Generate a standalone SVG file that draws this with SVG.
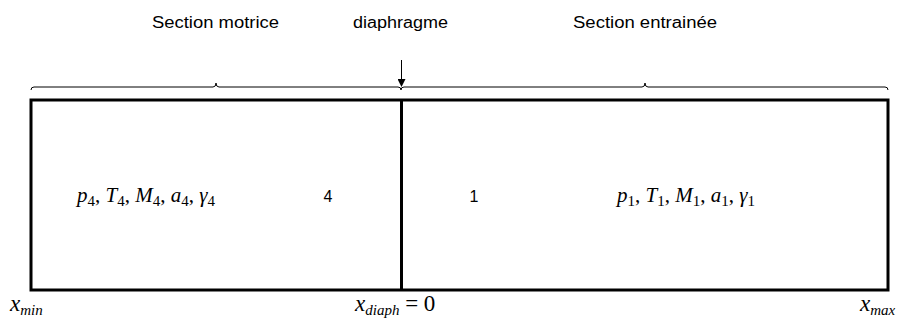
<svg xmlns="http://www.w3.org/2000/svg" width="902" height="320" viewBox="0 0 902 320">
<style>
.lbl{font-family:"Liberation Sans","Open Sans",sans-serif;font-size:16px;fill:#000}
.m{font-family:"Liberation Serif","DejaVu Serif",serif;font-style:italic;font-size:21px;fill:#000}
.ax{font-size:23px}
.s{font-size:15px}
.n{font-size:15px;font-style:normal}
.up{font-style:normal}
.brace{fill:none;stroke:#000;stroke-width:1}
</style>
<defs>
<marker id="ah" markerWidth="8" markerHeight="8" refX="7" refY="4" orient="auto" markerUnits="userSpaceOnUse">
<path d="M0,0 L8,4 L0,8 Z" fill="#000"/>
</marker>
</defs>
<rect width="902" height="320" fill="#fff"/>
<g id="tube">
<rect x="31" y="100" width="857" height="190" fill="none" stroke="#000" stroke-width="3"/>
<line x1="401.5" y1="100" x2="401.5" y2="290" stroke="#000" stroke-width="3"/>
</g>
<g id="braces">
<path class="brace" d="M31,90 Q31,87 34,87 L213,87 Q216,87 216,83 Q216,87 219,87 L398,87 Q401,87 401,90"/>
<path class="brace" d="M401,90 Q401,87 404,87 L642,87 Q645,87 645,83 Q645,87 648,87 L885,87 Q888,87 888,90"/>
</g>
<g id="connectors">
<line x1="401.5" y1="60" x2="401.5" y2="86" stroke="#000" stroke-width="1" marker-end="url(#ah)"/>
</g>
<g id="labels">
<text class="lbl" x="152" y="28" textLength="127" lengthAdjust="spacingAndGlyphs">Section motrice</text>
<text class="lbl" x="353" y="28" textLength="95" lengthAdjust="spacingAndGlyphs">diaphragme</text>
<text class="lbl" x="573" y="28" textLength="144" lengthAdjust="spacingAndGlyphs">Section entrainée</text>
</g>
<g id="driver">
<text class="m" x="77" y="202">p<tspan class="n" dy="4">4</tspan><tspan class="up" dy="-4">, </tspan>T<tspan class="n" dy="4">4</tspan><tspan class="up" dy="-4">, </tspan>M<tspan class="n" dy="4">4</tspan><tspan class="up" dy="-4">, </tspan>a<tspan class="n" dy="4">4</tspan><tspan class="up" dy="-4">, </tspan>γ<tspan class="n" dy="4">4</tspan></text>
<text class="lbl" x="328" y="202" text-anchor="middle">4</text>
</g>
<g id="driven">
<text class="lbl" x="474" y="202" text-anchor="middle">1</text>
<text class="m" x="617" y="202">p<tspan class="n" dy="4">1</tspan><tspan class="up" dy="-4">, </tspan>T<tspan class="n" dy="4">1</tspan><tspan class="up" dy="-4">, </tspan>M<tspan class="n" dy="4">1</tspan><tspan class="up" dy="-4">, </tspan>a<tspan class="n" dy="4">1</tspan><tspan class="up" dy="-4">, </tspan>γ<tspan class="n" dy="4">1</tspan></text>
</g>
<g id="axis">
<text class="m ax" x="10" y="311">x<tspan class="s" dy="4">min</tspan></text>
<text class="m ax" x="355" y="311">x<tspan class="s" dy="4">diaph</tspan><tspan class="up" dy="-4"> = 0</tspan></text>
<text class="m ax" x="860" y="311">x<tspan class="s" dy="4">max</tspan></text>
</g>
</svg>
